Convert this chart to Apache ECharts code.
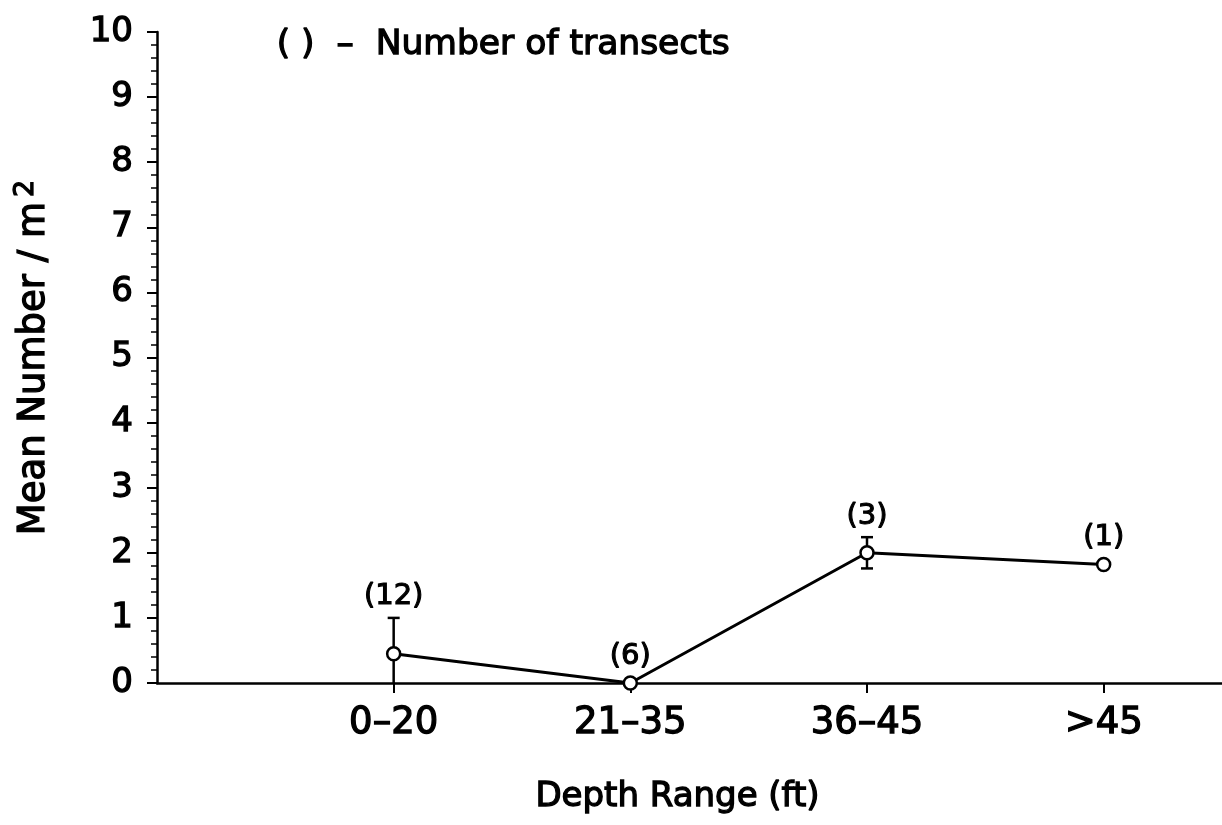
<!DOCTYPE html>
<html>
<head>
<meta charset="utf-8">
<script src="https://cdn.jsdelivr.net/npm/echarts@6/dist/echarts.min.js"></script>
<style>
  html, body { margin: 0; padding: 0; background: #fff; }
  #chart { width: 1222px; height: 825px; }
</style>
</head>
<body>
<div id="chart"></div>
<script>
// Depth classes and mean density per class
const depthRanges = ['0\u201320', '21\u201335', '36\u201345', '>45'];
const meanDensity = [0.45, 0.0, 2.0, 1.82];
// Error bar extents (low / high) for each class
const errLow = [0.0, 0.0, 1.76, 1.82];
const errHigh = [1.0, 0.0, 2.24, 1.82];
// Number of transects sampled in each class
const transects = [12, 6, 3, 1];

const FONT = '"DejaVu Sans", sans-serif';
// thin outline gives the lettering a medium weight
const INK = { color: '#000', textBorderColor: '#000', textBorderWidth: 1.3 };

// Positions along the value x axis: classes sit at 1..n
const linePoints = meanDensity.map((v, i) => [i + 1, v]);
const barItems = meanDensity.map((v, i) => [i + 1, errLow[i], errHigh[i], transects[i], v]);

const chart = echarts.init(document.getElementById('chart'), null, { renderer: 'canvas' });

chart.setOption({
  animation: false,
  backgroundColor: '#ffffff',
  grid: { left: 157, right: 0, top: 32, bottom: 142, containLabel: false },
  graphic: [{
    type: 'text',
    left: 276,
    top: 27,
    style: {
      text: '( )  \u2013  Number of transects',
      font: '34.5px ' + FONT,
      fill: '#000',
      stroke: '#000',
      lineWidth: 1.3
    }
  }],
  xAxis: {
    type: 'value',
    min: 0,
    max: 4.5,
    interval: 1,
    name: 'Depth Range (ft)',
    nameLocation: 'middle',
    nameGap: 97,
    nameTextStyle: Object.assign({ fontFamily: FONT, fontSize: 34, padding: [0, 24, 0, 0] }, INK),
    axisLine: { lineStyle: { color: '#000', width: 2.5 } },
    axisTick: { show: true, length: 10, lineStyle: { color: '#000', width: 2 } },
    axisLabel: Object.assign({
      margin: 22,
      fontFamily: FONT,
      fontSize: 37,
      showMinLabel: false,
      showMaxLabel: false,
      formatter: (v) => {
        const i = Math.round(v) - 1;
        return (Math.abs(v - Math.round(v)) < 1e-6 && i >= 0 && i < depthRanges.length) ? depthRanges[i] : '';
      }
    }, INK),
    splitLine: { show: false }
  },
  yAxis: {
    type: 'value',
    min: 0,
    max: 10,
    interval: 1,
    name: 'Mean Number / m{sup|2}',
    nameLocation: 'middle',
    nameGap: 100,
    nameTextStyle: Object.assign({
      fontFamily: FONT, fontSize: 37,
      rich: { sup: Object.assign({ fontFamily: FONT, fontSize: 27, verticalAlign: 'top', padding: [0, 0, 18, 5] }, INK) }
    }, INK),
    axisLine: { show: true, lineStyle: { color: '#000', width: 2.5 } },
    axisTick: { show: true, length: 10, lineStyle: { color: '#000', width: 2 } },
    minorTick: { show: true, splitNumber: 5, length: 6, lineStyle: { color: '#000', width: 1.5 } },
    axisLabel: Object.assign({ margin: 24, fontFamily: FONT, fontSize: 34 }, INK),
    splitLine: { show: false },
    minorSplitLine: { show: false }
  },
  series: [
    {
      // error bars with transect counts above each class
      type: 'custom',
      z: 1,
      data: barItems,
      encode: { x: 0, y: [1, 2] },
      renderItem: (params, api) => {
        const x = api.value(0);
        const lo = api.value(1);
        const hi = api.value(2);
        const n = api.value(3);
        const mean = api.value(4);
        const pTop = api.coord([x, hi]);
        const pLo = api.coord([x, lo]);
        const pMean = api.coord([x, mean]);
        const cap = 6;
        const stroke = { stroke: '#000', lineWidth: 2.5 };
        const children = [];
        if (hi > lo) {
          children.push({ type: 'line', shape: { x1: pTop[0], y1: pTop[1], x2: pLo[0], y2: pLo[1] }, style: stroke });
          children.push({ type: 'line', shape: { x1: pTop[0] - cap, y1: pTop[1], x2: pTop[0] + cap, y2: pTop[1] }, style: stroke });
          if (lo > 0) {
            children.push({ type: 'line', shape: { x1: pLo[0] - cap, y1: pLo[1], x2: pLo[0] + cap, y2: pLo[1] }, style: stroke });
          }
        }
        const topY = Math.min(pTop[1], pMean[1] - 6);
        children.push({
          type: 'text',
          style: {
            x: pMean[0], y: topY - 21,
            text: '(' + n + ')',
            font: '29px ' + FONT,
            fill: '#000',
            stroke: '#000',
            lineWidth: 1.1,
            align: 'center',
            verticalAlign: 'middle'
          }
        });
        return { type: 'group', children };
      }
    },
    {
      type: 'line',
      z: 3,
      data: linePoints,
      symbol: 'circle',
      symbolSize: 13,
      itemStyle: { color: '#fff', borderColor: '#000', borderWidth: 2.5 },
      lineStyle: { color: '#000', width: 3 },
      emphasis: { disabled: true }
    }
  ]
});
</script>
</body>
</html>
